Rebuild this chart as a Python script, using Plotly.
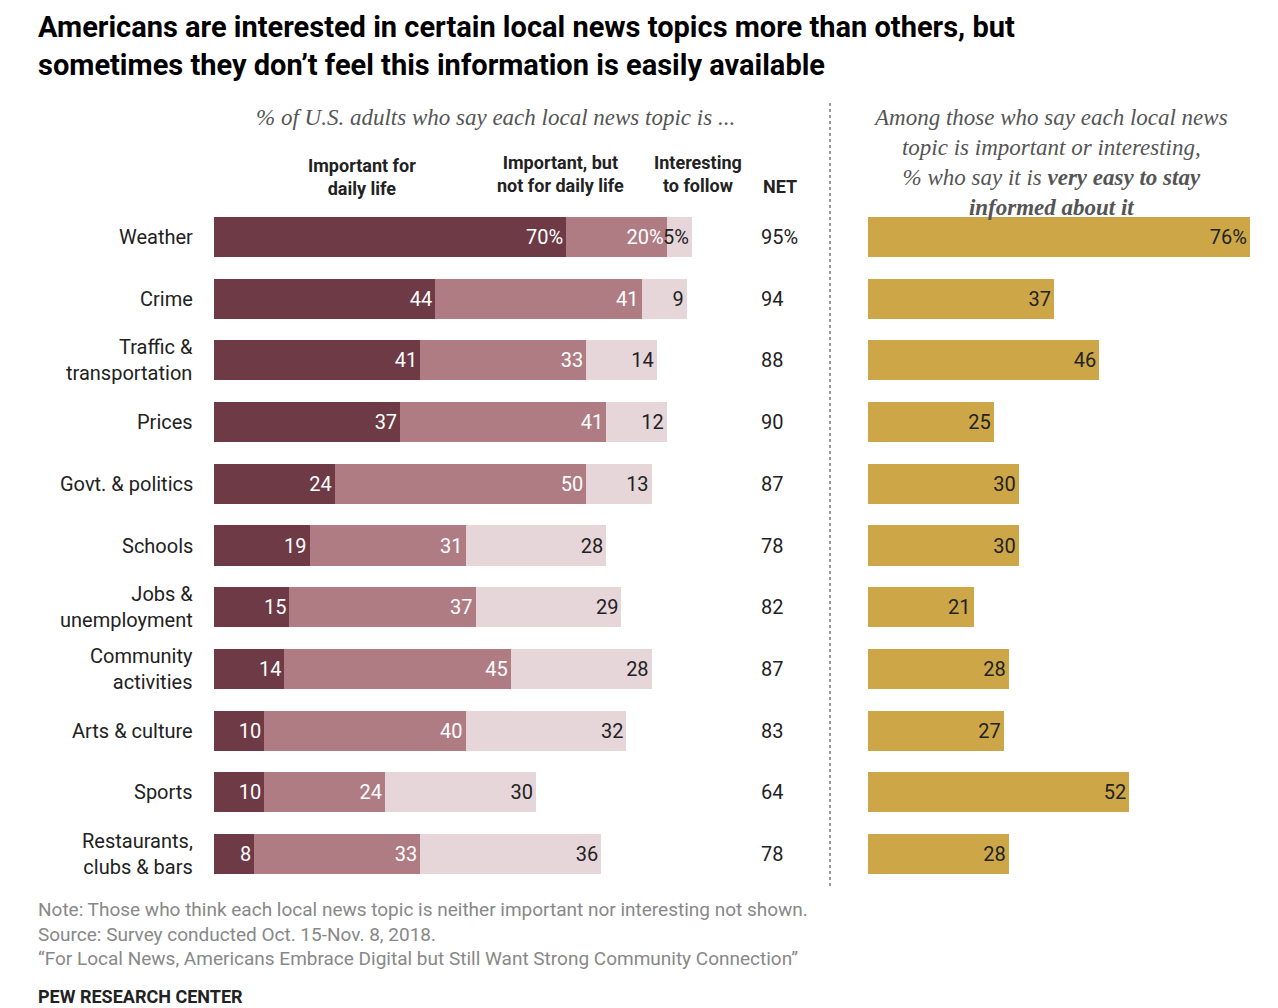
import plotly.graph_objects as go

topics = ["Weather", "Crime", "Traffic &<br>transportation", "Prices", "Govt. & politics",
          "Schools", "Jobs &<br>unemployment", "Community<br>activities", "Arts & culture",
          "Sports", "Restaurants,<br>clubs & bars"]
important_daily = [70, 44, 41, 37, 24, 19, 15, 14, 10, 10, 8]
important_not_daily = [20, 41, 33, 41, 50, 31, 37, 45, 40, 24, 33]
interesting = [5, 9, 14, 12, 13, 28, 29, 28, 32, 30, 36]
net = [95, 94, 88, 90, 87, 78, 82, 87, 83, 64, 78]
very_easy = [76, 37, 46, 25, 30, 30, 21, 28, 27, 52, 28]

W, H = 1278, 1008
OFF = 8  # page offset of the plot div
FONT = "Roboto"
SERIF = "Liberation Serif"
DARK, MID, LIGHT, GOLD = "#6d3a45", "#b07c84", "#e6d6da", "#cda747"


def px_x(p):
    return (p - OFF) / W


def px_y(p):
    return 1 - (p - OFF) / H


def lbl(vals, first_pct):
    return [f"{v}%" if (i == 0 and first_pct) else str(v) for i, v in enumerate(vals)]


fig = go.Figure()
bar_kw = dict(orientation="h", width=0.65, textposition="inside", insidetextanchor="end",
              textangle=0, constraintext="none",
              textfont=dict(family=FONT, size=20), hoverinfo="skip", marker_line_width=0)
fig.add_trace(go.Bar(y=topics, x=important_daily, text=lbl(important_daily, True),
                     marker_color=DARK, textfont_color="white", **bar_kw))
fig.add_trace(go.Bar(y=topics, x=important_not_daily, text=lbl(important_not_daily, True),
                     marker_color=MID, textfont_color="white", **bar_kw))
fig.add_trace(go.Bar(y=topics, x=interesting, text=lbl(interesting, True),
                     marker_color=LIGHT, textfont_color="#222", **bar_kw))
fig.add_trace(go.Bar(y=topics, x=very_easy, text=lbl(very_easy, True), xaxis="x2", yaxis="y2",
                     marker_color=GOLD, textfont_color="#222", **bar_kw))

ydom = [px_y(885), px_y(206)]
fig.update_layout(
    width=W, height=H, margin=dict(l=0, r=0, t=0, b=0),
    barmode="stack", showlegend=False, plot_bgcolor="white", paper_bgcolor="white",
    xaxis=dict(domain=[px_x(214), px_x(717)], range=[0, 100], visible=False),
    yaxis=dict(domain=ydom, autorange="reversed", visible=False),
    xaxis2=dict(domain=[px_x(868), px_x(1270)], range=[0, 80], visible=False, anchor="y2"),
    yaxis2=dict(domain=ydom, autorange="reversed", visible=False, anchor="x2"),
)

ann = []
for t, n in zip(topics, net):
    ann.append(dict(x=px_x(195), y=t, xref="paper", yref="y", text=t, showarrow=False,
                    xanchor="right", align="right", font=dict(family=FONT, size=20, color="#222")))
    ann.append(dict(x=px_x(759), y=t, xref="paper", yref="y", text=str(n) + ("%" if t == "Weather" else ""),
                    showarrow=False, xanchor="left", font=dict(family=FONT, size=20, color="#222")))


def txt(x, y, s, size=20, anchor="left", yanchor="top", family=FONT, color="#222", align="left"):
    ann.append(dict(x=px_x(x), y=px_y(y), xref="paper", yref="paper", text=s, showarrow=False,
                    xanchor=anchor, yanchor=yanchor, align=align,
                    font=dict(family=family, size=size, color=color)))


txt(36, 8, "<b>Americans are interested in certain local news topics more than others, but<br>"
           "sometimes they don’t feel this information is easily available</b>", size=29, color="#000")
txt(495, 103, "<i>% of U.S. adults who say each local news topic is ...</i>", size=23, anchor="center",
    family=SERIF, color="#555")
txt(1050, 103, "<i>Among those who say each local news<br>topic is important or interesting,<br>"
               "% who say it is <b>very easy to stay<br>informed about it</b></i>", size=23,
    anchor="center", family=SERIF, color="#555", align="center")
txt(362, 153, "<b>Important for<br>daily life</b>", size=18, anchor="center", align="center")
txt(560, 150, "<b>Important, but<br>not for daily life</b>", size=18, anchor="center", align="center")
txt(698, 150, "<b>Interesting<br>to follow</b>", size=18, anchor="center", align="center")
txt(780, 174, "<b>NET</b>", size=18, anchor="center")
txt(36, 896, "Note: Those who think each local news topic is neither important nor interesting not shown.<br>"
             "Source: Survey conducted Oct. 15-Nov. 8, 2018.<br>"
             "“For Local News, Americans Embrace Digital but Still Want Strong Community Connection”",
    size=19, color="#888")
txt(36, 984, "<b>PEW RESEARCH CENTER</b>", size=18, color="#222")
fig.update_layout(annotations=ann)

fig.add_shape(type="line", xref="paper", yref="paper", x0=px_x(830), x1=px_x(830),
              y0=px_y(103), y1=px_y(888), line=dict(color="#999", width=2, dash="dot"))

fig.write_html("out.html")
